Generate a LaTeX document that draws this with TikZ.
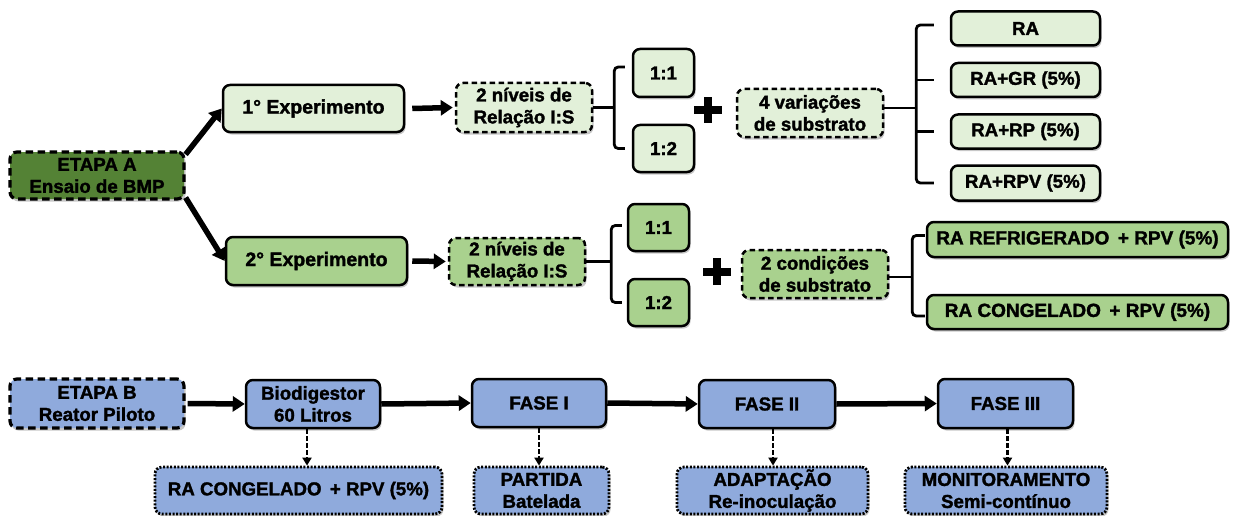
\documentclass[tikz,border=0pt]{standalone}
\usepackage{fontspec}
\setmainfont{Liberation Sans}[BoldFeatures={FakeBold=1.6}]
\usetikzlibrary{arrows.meta,shadows}
\definecolor{gdark}{HTML}{548235}
\definecolor{glight}{HTML}{E2F0D9}
\definecolor{gmid}{HTML}{A9D18E}
\definecolor{bmid}{HTML}{8FAADC}
\tikzset{
  bx/.style={draw=black, line width=2.5pt, rounded corners=7pt, inner sep=0pt, align=center,
    font=\fontsize{18.7}{22}\selectfont\bfseries,
    drop shadow={shadow xshift=1.5pt, shadow yshift=-2.5pt, opacity=0.22, fill=black}},
  dbx/.style={bx, dash pattern=on 5.5pt off 3.5pt},
  tbx/.style={bx, line width=3.2pt, dash pattern=on 7.5pt off 4.5pt},
  obx/.style={bx, line width=2.8pt, dash pattern=on 2pt off 1.6pt},
  arr/.style={line width=5.5pt, -{Triangle[length=12pt,width=15pt]}},
  darr/.style={line width=2.4pt, dash pattern=on 4.5pt off 2.5pt, -{Triangle[length=8pt,width=9pt]}},
  brk/.style={line width=2.8pt, rounded corners=4pt},
  plusl/.style={line width=8pt}
}
\begin{document}
\begin{tikzpicture}[x=1pt,y=-1pt]
\useasboundingbox (0,0) rectangle (1233,516);
% ETAPA A
\node[tbx, fill=gdark, minimum width=174, minimum height=47] (etA) at (97,175.5) {ETAPA A\\Ensaio de BMP};
\node[bx, fill=glight, minimum width=181, minimum height=47, font=\fontsize{19.5}{22}\selectfont\bfseries] (exp1) at (313.5,108.5) {1° Experimento};
\node[bx, fill=gmid, minimum width=181, minimum height=48, font=\fontsize{19.5}{22}\selectfont\bfseries] (exp2) at (316.5,261) {2° Experimento};
% row 1
\node[dbx, fill=glight, minimum width=136, minimum height=49] (niv1) at (524,107.5) {2 níveis de\\Relação I:S};
\node[bx, fill=glight, minimum width=61, minimum height=48] (a11) at (663.5,73) {1:1};
\node[bx, fill=glight, minimum width=61, minimum height=47] (a12) at (663.5,148.5) {1:2};
\node[dbx, fill=glight, minimum width=146, minimum height=48] (var4) at (810,113) {4 variações\\de substrato};
\node[bx, fill=glight, minimum width=149, minimum height=34] (ra) at (1025.5,28.5) {RA};
\node[bx, fill=glight, minimum width=149, minimum height=34] (gr) at (1025.5,80) {RA+GR (5\%)};
\node[bx, fill=glight, minimum width=149, minimum height=34] (rp) at (1025.5,131.5) {RA+RP (5\%)};
\node[bx, fill=glight, minimum width=149, minimum height=35] (rpv) at (1025.5,183) {RA+RPV (5\%)};
% row 2
\node[dbx, fill=gmid, minimum width=136, minimum height=47] (niv2) at (517,261.5) {2 níveis de\\Relação I:S};
\node[bx, fill=gmid, minimum width=61, minimum height=47] (b11) at (658.5,227.5) {1:1};
\node[bx, fill=gmid, minimum width=61, minimum height=47] (b12) at (658.5,302.5) {1:2};
\node[dbx, fill=gmid, minimum width=146, minimum height=48] (cond2) at (815,274) {2 condições\\de substrato};
\node[bx, fill=gmid, minimum width=301, minimum height=35, font=\fontsize{19}{22}\selectfont\bfseries] (refr) at (1077.5,239.5) {RA REFRIGERADO \,+ RPV (5\%)};
\node[bx, fill=gmid, minimum width=301, minimum height=34, font=\fontsize{19}{22}\selectfont\bfseries] (cong) at (1077.5,312) {RA CONGELADO \,+ RPV (5\%)};
% ETAPA B
\node[tbx, fill=bmid, minimum width=174, minimum height=49] (etB) at (97,403.5) {ETAPA B\\Reator Piloto};
\node[bx, fill=bmid, minimum width=134, minimum height=48] (bio) at (313,404) {Biodigestor\\60 Litros};
\node[bx, fill=bmid, minimum width=134, minimum height=48] (f1) at (539,403) {FASE I};
\node[bx, fill=bmid, minimum width=136, minimum height=48] (f2) at (767,404) {FASE II};
\node[bx, fill=bmid, minimum width=135, minimum height=49] (f3) at (1005.5,403.5) {FASE III};
\node[obx, fill=bmid, minimum width=287, minimum height=47] (rab) at (298.5,490.5) {RA CONGELADO \,+ RPV (5\%)};
\node[obx, fill=bmid, minimum width=135, minimum height=47] (part) at (541.5,490.5) {PARTIDA\\Batelada};
\node[obx, fill=bmid, minimum width=191, minimum height=47] (adap) at (772.5,490.5) {ADAPTAÇÃO\\Re-inoculação};
\node[obx, fill=bmid, minimum width=202, minimum height=47] (mon) at (1006,490.5) {MONITORAMENTO\\Semi-contínuo};
% arrows etapa A
\draw[arr] ([yshift=-4pt]etA.north east) -- (exp1.west);
\draw[arr] ([yshift=3pt]etA.south east) -- (exp2.west);
\draw[arr] ([xshift=7pt]exp1.east) -- ([xshift=-2pt]niv1.west);
\draw[arr] ([xshift=4pt]exp2.east) -- ([xshift=-2pt]niv2.west);
% brackets row 1
\draw[brk] (niv1.east) -- ++(21,0) coordinate (k1);
\draw[brk] ([xshift=-7pt,yshift=6pt]a11.west) -- ([yshift=6pt]k1 |- a11.west) -- (k1 |- a12.west) -- ([xshift=-7pt]a12.west);
\draw[brk] ([yshift=5pt]var4.east) -- ++(32,0) coordinate (k2);
\draw[brk] ([xshift=-16pt,yshift=3.5pt]ra.west) -- ([yshift=3.5pt]k2 |- ra.west) -- (k2 |- rpv.west) -- ([xshift=-16pt]rpv.west);
\draw[brk] ([xshift=-16pt]gr.west) -- (k2 |- gr.west);
\draw[brk] ([xshift=-16pt]rp.west) -- (k2 |- rp.west);
% brackets row 2
\draw[brk] (niv2.east) -- ++(25,0) coordinate (k3);
\draw[brk] ([xshift=-5pt,yshift=2pt]b11.west) -- ([yshift=2pt]k3 |- b11.west) -- (k3 |- b12.west) -- ([xshift=-5pt]b12.west);
\draw[brk] ([yshift=-3pt]cond2.east) -- ++(23,0) coordinate (k4);
\draw[brk] ([xshift=-1pt,yshift=4pt]refr.west) -- ([yshift=4pt]k4 |- refr.west) -- ([yshift=-4pt]k4 |- cong.west) -- ([xshift=-1pt,yshift=-4pt]cong.west);
% plus signs
\coordinate (p1) at (708,110);
\coordinate (p2) at (717,271.5);
\draw[plusl] ([xshift=-14pt]p1) -- ([xshift=14pt]p1);
\draw[plusl] ([yshift=-13pt]p1) -- ([yshift=13pt]p1);
\draw[plusl] ([xshift=-14pt]p2) -- ([xshift=14pt]p2);
\draw[plusl] ([yshift=-13.5pt]p2) -- ([yshift=13.5pt]p2);
% row B arrows
\draw[arr] ([xshift=2pt]etB.east) -- (bio.west);
\draw[arr] (bio.east) -- (f1.west);
\draw[arr] (f1.east) -- (f2.west);
\draw[arr] (f2.east) -- (f3.west);
\draw[darr] ([xshift=-6pt]bio.south) -- ([xshift=-6pt]bio.south |- rab.north);
\draw[darr] (f1.south) -- (f1.south |- part.north);
\draw[darr] ([xshift=6pt]f2.south) -- ([xshift=6pt]f2.south |- adap.north);
\draw[darr] ([xshift=2pt]f3.south) -- ([xshift=2pt]f3.south |- mon.north);
\end{tikzpicture}
\end{document}
